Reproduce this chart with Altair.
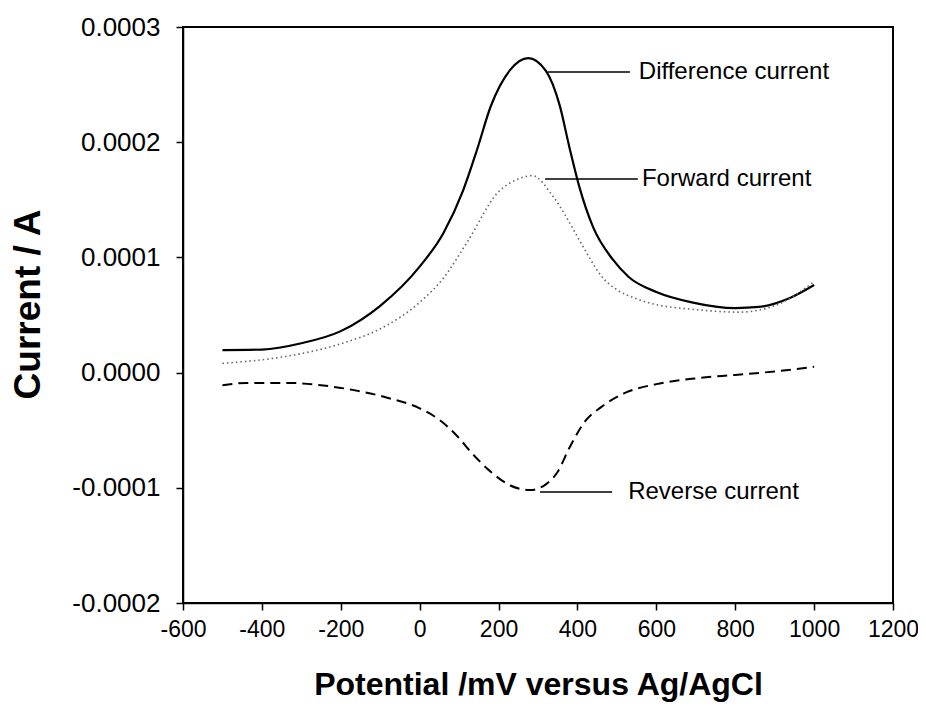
import altair as alt
import pandas as pd

# Difference current (solid)
diff_mv = [-500, -400, -300, -200, -100, 0, 60, 110, 145, 180, 230, 275, 320, 355, 380, 405, 440, 490, 530, 600, 690, 800, 860, 940, 1000]
diff_a = [0.0000195, 0.0000200, 0.0000255, 0.0000360, 0.0000580, 0.0000920, 0.000121, 0.000158, 0.000193, 0.000231, 0.000263, 0.000273, 0.000262, 0.000232, 0.000195, 0.000161, 0.000126, 0.000098, 0.000083, 0.000070, 0.000061, 0.000056, 0.000057, 0.000065, 0.000076]

# Forward current (dotted)
fwd_mv = [-500, -350, -200, -100, 0, 60, 120, 200, 250, 285, 340, 400, 430, 460, 500, 550, 600, 690, 810, 900, 1000]
fwd_a = [0.000008, 0.0000135, 0.000025, 0.000038, 0.000061, 0.000082, 0.000113, 0.000157, 0.000168, 0.000171, 0.000152, 0.000118, 0.000100, 0.000084, 0.000072, 0.000064, 0.000059, 0.000055, 0.0000525, 0.000058, 0.000079]

# Reverse current (dashed)
rev_mv = [-500, -440, -330, -250, -170, -80, 0, 50, 95, 130, 180, 230, 280, 320, 350, 380, 420, 460, 525, 600, 700, 800, 900, 1000]
rev_a = [-0.000011, -0.000009, -0.000009, -0.000011, -0.000015, -0.000022, -0.000031, -0.000041, -0.000055, -0.000069, -0.000086, -0.000098, -0.000102, -0.000097, -0.000086, -0.000065, -0.000042, -0.000030, -0.000017, -0.000010, -0.000005, -0.000002, 0.000001, 0.000005]

# Annotations
ann_labels = ["Difference current", "Forward current", "Reverse current"]
ann_x1 = [325, 318, 305]
ann_x2 = [533, 553, 488]
ann_y = [0.000261, 0.000168, -0.0001036]
ann_tx = [553, 561, 526]

x_ticks = [-600, -400, -200, 0, 200, 400, 600, 800, 1000, 1200]
y_ticks = [-0.0002, -0.0001, 0.0, 0.0001, 0.0002, 0.0003]

FONT = "Liberation Sans"

xs = alt.Scale(domain=[-600, 1200], nice=False, zero=False)
ys = alt.Scale(domain=[-0.0002, 0.0003], nice=False, zero=False)

xaxis = alt.Axis(values=x_ticks, title="Potential /mV versus Ag/AgCl",
                 labelExpr="datum.value < 0 ? '-' + format(-datum.value, 'd') : format(datum.value, 'd')",
                 grid=False, tickSize=7, labelPadding=8, labelFontSize=23, labelFont=FONT,
                 labelColor="black", domainColor="black", tickColor="black", domainWidth=1.5,
                 tickWidth=1.5, titleFontSize=32, titleFont=FONT, titleFontWeight="bold",
                 titleColor="black", titleX=355, titleY=81, titleBaseline="middle",
                 titleAnchor="middle", labelFlush=False, labelOverlap=False)
yaxis = alt.Axis(values=y_ticks, title="Current / A",
                 labelExpr="datum.value < 0 ? '-' + format(-datum.value, '.4f') : format(datum.value, '.4f')",
                 grid=False, tickSize=7, labelPadding=16, labelFontSize=26, labelFont=FONT,
                 labelColor="black", domainColor="black", tickColor="black", domainWidth=1.5,
                 tickWidth=1.5, titleFontSize=37, titleFont=FONT, titleFontWeight="bold",
                 titleColor="black", titleX=-155, titleY=277, titleAngle=270,
                 titleAlign="center", titleBaseline="middle", labelFlush=False, labelOverlap=False)

d_diff = pd.DataFrame({"mv": diff_mv, "a": diff_a})
d_fwd = pd.DataFrame({"mv": fwd_mv, "a": fwd_a})
d_rev = pd.DataFrame({"mv": rev_mv, "a": rev_a})
d_ann = pd.DataFrame({"label": ann_labels, "x1": ann_x1, "x2": ann_x2, "y": ann_y, "tx": ann_tx})

line_diff = alt.Chart(d_diff).mark_line(color="black", strokeWidth=2.2, interpolate="monotone").encode(
    x=alt.X("mv:Q", scale=xs, axis=xaxis),
    y=alt.Y("a:Q", scale=ys, axis=yaxis),
)
line_fwd = alt.Chart(d_fwd).mark_line(color="#666666", strokeWidth=1.6, strokeDash=[1.5, 3],
                                      interpolate="monotone").encode(
    x=alt.X("mv:Q", scale=xs), y=alt.Y("a:Q", scale=ys))
line_rev = alt.Chart(d_rev).mark_line(color="black", strokeWidth=2, strokeDash=[10, 6],
                                      interpolate="monotone").encode(
    x=alt.X("mv:Q", scale=xs), y=alt.Y("a:Q", scale=ys))

rules = alt.Chart(d_ann).mark_rule(color="black", strokeWidth=1.5).encode(
    x=alt.X("x1:Q", scale=xs), x2="x2:Q", y=alt.Y("y:Q", scale=ys))
texts = alt.Chart(d_ann).mark_text(align="left", baseline="middle", fontSize=24, font=FONT,
                                   color="black", dx=1).encode(
    x=alt.X("tx:Q", scale=xs), y=alt.Y("y:Q", scale=ys), text="label:N")

chart = alt.layer(line_diff, line_fwd, line_rev, rules, texts).properties(
    width=710, height=576,
    background="white",
    autosize=alt.AutoSizeParams(type="none"),
    padding={"left": 175, "top": 19, "right": 25, "bottom": 110},
).configure_view(stroke="black", strokeWidth=2)

chart.save("out.html", embed_options={"renderer": "svg", "actions": False})
